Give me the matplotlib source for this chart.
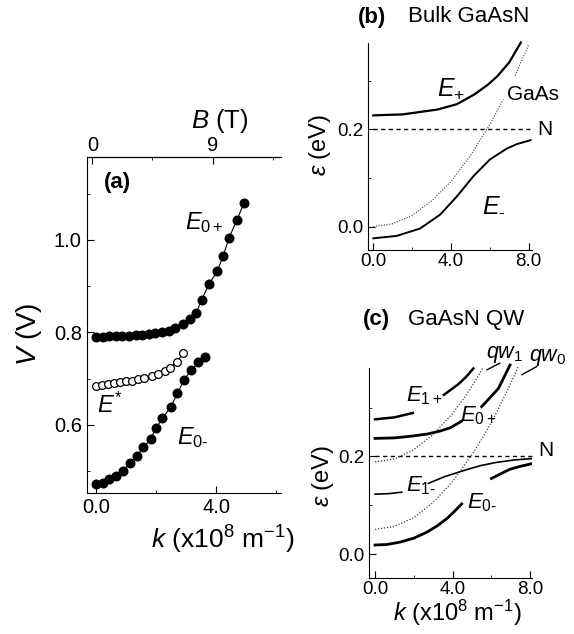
import numpy as np
import matplotlib
matplotlib.use("Agg")
from matplotlib import pyplot as plt

plt.rcParams['font.family'] = ['Liberation Sans', 'DejaVu Sans']
plt.rcParams['mathtext.fontset'] = 'custom'
plt.rcParams['mathtext.rm'] = 'Liberation Sans'
plt.rcParams['mathtext.it'] = 'Liberation Sans:italic'
plt.rcParams['mathtext.bf'] = 'Liberation Sans:bold'

nan = np.nan
HY = '\u2010'  # short hyphen for the E_- subscripts (mathtext turns '-' into a long minus)

# (a) measured resonances, k in 1e8 m^-1, V in volts
k_e0p = [0.0, 0.22, 0.44, 0.66, 0.88, 1.10, 1.32, 1.54, 1.76, 1.98, 2.20, 2.42,
         2.64, 2.90, 3.12, 3.34, 3.52, 3.77, 4.04, 4.24, 4.43, 4.69, 4.93]
v_e0p = [0.791, 0.791, 0.792, 0.792, 0.793, 0.793, 0.794, 0.795, 0.796, 0.798,
         0.800, 0.804, 0.810, 0.819, 0.828, 0.842, 0.871, 0.905, 0.933, 0.966,
         1.004, 1.043, 1.079]
k_estar = [0.0, 0.2, 0.4, 0.6, 0.8, 1.0, 1.2, 1.4, 1.6, 1.85, 2.07, 2.3, 2.48,
           2.7, 2.91]
v_estar = [0.685, 0.686, 0.688, 0.690, 0.692, 0.694, 0.696, 0.699, 0.702, 0.706,
           0.710, 0.716, 0.724, 0.737, 0.755]
k_e0m = [0.0, 0.22, 0.43, 0.66, 0.90, 1.13, 1.36, 1.58, 1.82, 1.99, 2.21, 2.49,
         2.71, 2.93, 3.16, 3.41, 3.63]
v_e0m = [0.473, 0.475, 0.484, 0.490, 0.501, 0.518, 0.533, 0.552, 0.569, 0.593,
         0.614, 0.639, 0.668, 0.697, 0.718, 0.735, 0.746]

# (b) bulk GaAsN dispersion, eps in eV
k_bp = [0.0, 1.5, 3.3, 4.3, 5.2, 5.9, 6.4, 7.0, 7.6]
e_bp = [0.229, 0.231, 0.241, 0.252, 0.272, 0.292, 0.310, 0.338, 0.379]
k_bm = [0.0, 1.2, 2.4, 3.45, 4.3, 5.16, 6.0, 6.85, 7.4, 8.1]
e_bm = [-0.024, -0.019, -0.004, 0.025, 0.062, 0.104, 0.138, 0.160, 0.170, 0.178]
k_gaas = [0.0, 1.0, 2.0, 3.0, 4.0, 5.0, 6.0, 6.7, nan, 7.3, 8.0]
e_gaas = [0.0, 0.006, 0.023, 0.053, 0.093, 0.146, 0.210, 0.262, nan, 0.311, 0.374]
n_level = 0.2
k_span = [0.0, 8.2]

# (c) GaAsN quantum well subbands
k_e1p = [0.0, 1.0, 1.95, nan, 3.55, 4.3, 4.7, 5.07]
e_e1p = [0.276, 0.280, 0.289, nan, 0.326, 0.348, 0.363, 0.380]
k_e0p_c = [0.0, 1.0, 1.97, 2.7, 3.35, 3.9, 4.45, nan, 5.5, 6.36, 6.96]
e_e0p_c = [0.237, 0.238, 0.242, 0.246, 0.252, 0.259, 0.272, nan, 0.302, 0.339, 0.387]
k_e1m = [0.0, 0.7, 1.37, nan, 2.75, 3.6, 4.55, 5.4, 6.27, 7.2, 8.16]
e_e1m = [0.123, 0.124, 0.127, nan, 0.145, 0.159, 0.171, 0.181, 0.188, 0.193, 0.196]
k_e0m_c = [0.0, 0.6, 1.3, 2.0, 2.66, 3.2, 3.7, 4.1, 4.47, nan, 6.0, 6.5, 6.96, 7.5, 8.16]
e_e0m_c = [0.019, 0.020, 0.025, 0.033, 0.045, 0.058, 0.073, 0.088, 0.103, nan,
           0.155, 0.165, 0.174, 0.180, 0.186]
k_qw1 = [0.0, 1.0, 2.0, 3.0, 4.0, 4.6, 5.1, 5.55]
e_qw1 = [0.189, 0.195, 0.214, 0.245, 0.288, 0.320, 0.350, 0.380]
k_qw0 = [0.0, 1.0, 2.0, 3.0, 4.0, 5.0, 5.6, 6.2, 6.8, 7.4]
e_qw0 = [0.051, 0.057, 0.075, 0.106, 0.149, 0.204, 0.242, 0.285, 0.333, 0.385]

# B (T) scale on top of panel (a)
b_per_k = 2.25
b_offset = 0.12


def k_to_b(k):
    return b_per_k * (np.asarray(k) + b_offset)


def b_to_k(b):
    return np.asarray(b) / b_per_k - b_offset


dots = (0, (1, 1.4))

fig = plt.figure(figsize=(5.74, 6.34), dpi=100)

# ---- panel (a)
axa = fig.add_axes([0.151, 0.2224, 0.338, 0.530])
axa.plot(k_e0p, v_e0p, '-o', color='black', lw=0.8, ms=6.2, mfc='black', clip_on=False)
axa.plot(k_estar, v_estar, '-o', color='black', lw=0.8, ms=5.6, mfc='white', mew=0.9)
axa.plot(k_e0m, v_e0m, '-o', color='black', lw=0.8, ms=6.2, mfc='black')
axa.set_xlim(-0.31, 6.15)
axa.set_ylim(0.453, 1.179)
axa.spines['right'].set_visible(False)
axa.set_xticks([0, 4])
axa.set_xticklabels(['0.0', '4.0'])
axa.set_xticks([2, 6], minor=True)
axa.set_yticks([0.6, 0.8, 1.0])
axa.set_yticklabels(['0.6', '0.8', '1.0'])
axa.set_yticks([0.5, 0.7, 0.9, 1.1], minor=True)
axa.tick_params(which='both', direction='in', labelsize=14.5, pad=3.5, top=False, right=False)
axa.tick_params(which='major', length=5)
axa.tick_params(which='minor', length=2.5)

secax = axa.secondary_xaxis('top', functions=(k_to_b, b_to_k))
secax.set_xticks([0, 9])
secax.set_xticklabels(['0', '9'])
secax.set_xticks([4.5, 13.5], minor=True)
secax.tick_params(which='both', direction='in', labelsize=14.5, pad=1.5)
secax.tick_params(which='major', length=5)
secax.tick_params(which='minor', length=2.5)

axa.set_xlabel(r'$k$ (x10$^8$ m$^{-1}$)', fontsize=19)
axa.xaxis.label.set_va('center')
axa.xaxis.set_label_coords(0.703, -0.140)
axa.set_ylabel(r'$V$ (V)', fontsize=20)
axa.yaxis.label.set_va('center')
axa.yaxis.set_label_coords(-0.297, 0.473)
axa.text(0.685, 1.108, r'$B$ (T)', transform=axa.transAxes, fontsize=18.5,
         ha='center', va='center')

axa.text(0.70, 1.124, '(a)', fontsize=16, fontweight='bold', ha='center', va='center')
axa.text(3.62, 1.037, r'$E_{0+}$', fontsize=17, ha='center', va='center')
axa.text(0.47, 0.642, r'$E^{*}$', fontsize=17, ha='center', va='center')
axa.text(3.22, 0.572, r'$E_{0' + HY + '}$', fontsize=17, ha='center', va='center')

# ---- panel (b)
axb = fig.add_axes([0.6416, 0.6057, 0.2847, 0.3265])
axb.hlines(n_level, k_span[0], k_span[1], colors='black', lw=1.0, linestyles=(0, (3, 2.5)),
           clip_on=False)
axb.plot(k_gaas, e_gaas, color='0.25', lw=0.8, ls=dots)
axb.plot(k_bp, e_bp, color='black', lw=1.6, clip_on=False)
axb.plot(k_bm, e_bm, color='black', lw=1.4)
axb.set_xlim(-0.26, 8.16)
axb.set_ylim(-0.048, 0.378)

# ---- panel (c)
axc = fig.add_axes([0.6429, 0.0879, 0.2835, 0.3317])
axc.hlines(n_level, k_span[0], k_span[1], colors='black', lw=1.0, linestyles=(0, (3, 2.5)),
           clip_on=False)
axc.plot(k_qw1, e_qw1, color='0.25', lw=0.9, ls=dots, clip_on=False)
axc.plot(k_qw0, e_qw0, color='0.25', lw=0.9, ls=dots, clip_on=False)
axc.plot(k_e1p, e_e1p, color='black', lw=1.8, clip_on=False)
axc.plot(k_e0p_c, e_e0p_c, color='black', lw=2.0, clip_on=False)
axc.plot(k_e1m, e_e1m, color='black', lw=1.2)
axc.plot(k_e0m_c, e_e0m_c, color='black', lw=2.0)
axc.set_xlim(-0.31, 8.08)
axc.set_ylim(-0.049, 0.381)

for ax in (axb, axc):
    ax.spines['top'].set_visible(False)
    ax.spines['right'].set_visible(False)
    ax.set_xticks([0, 4, 8])
    ax.set_xticklabels(['0.0', '4.0', '8.0'])
    ax.set_xticks([2, 6], minor=True)
    ax.set_yticks([0.0, 0.2])
    ax.set_yticklabels(['0.0', '0.2'])
    ax.set_yticks([0.1, 0.3], minor=True)
    ax.tick_params(which='both', direction='in', labelsize=13.5, top=False, right=False)
    ax.tick_params(axis='x', pad=2)
    ax.tick_params(axis='y', pad=3.5)
    ax.tick_params(which='major', length=5)
    ax.tick_params(which='minor', length=2.5)
    ax.set_ylabel(r'$\varepsilon$ (eV)', fontsize=17)
    ax.yaxis.label.set_va('center')

axb.yaxis.set_label_coords(-0.296, 0.507)
axc.yaxis.set_label_coords(-0.283, 0.486)
axc.set_xlabel(r'$k$ (x10$^8$ m$^{-1}$)', fontsize=17)
axc.xaxis.label.set_va('center')
axc.xaxis.set_label_coords(0.541, -0.165)

axb.text(4.0, 0.284, r'$E_{+}$', fontsize=18, ha='center', va='center')
axb.text(8.23, 0.271, 'GaAs', fontsize=15, ha='center', va='center')
axb.text(8.85, 0.199, 'N', fontsize=15, ha='center', va='center')
axb.text(6.22, 0.047, r'$E_{' + HY + '}$', fontsize=18, ha='center', va='center')

axc.text(2.53, 0.325, r'$E_{1+}$', fontsize=16, ha='center', va='center')
axc.text(5.31, 0.284, r'$E_{0+}$', fontsize=16, ha='center', va='center')
axc.text(2.35, 0.141, r'$E_{1' + HY + '}$', fontsize=16, ha='center', va='center')
axc.text(5.52, 0.106, r'$E_{0' + HY + '}$', fontsize=16, ha='center', va='center')
axc.text(8.81, 0.213, 'N', fontsize=15, ha='center', va='center')
axc.text(6.68, 0.408, r'$qw_1$', fontsize=15.5, ha='center', va='center')
axc.text(8.89, 0.402, r'$qw_0$', fontsize=15.5, ha='center', va='center')
axc.annotate('', xy=(5.76, 0.377), xytext=(6.44, 0.391), annotation_clip=False,
             arrowprops=dict(arrowstyle='-', lw=1.0, color='black', shrinkA=0, shrinkB=0))
axc.annotate('', xy=(7.56, 0.367), xytext=(8.34, 0.384), annotation_clip=False,
             arrowprops=dict(arrowstyle='-', lw=1.0, color='black', shrinkA=0, shrinkB=0))

# panel titles
fig.text(358 / 574, 1 - 17 / 634, '(b)', fontsize=16, fontweight='bold', ha='left', va='center')
fig.text(408 / 574, 1 - 17 / 634, 'Bulk GaAsN', fontsize=16, ha='left', va='center')
fig.text(363 / 574, 1 - 320 / 634, '(c)', fontsize=16, fontweight='bold', ha='left', va='center')
fig.text(408 / 574, 1 - 320 / 634, 'GaAsN QW', fontsize=16, ha='left', va='center')

fig.savefig('out.png', dpi=100)
